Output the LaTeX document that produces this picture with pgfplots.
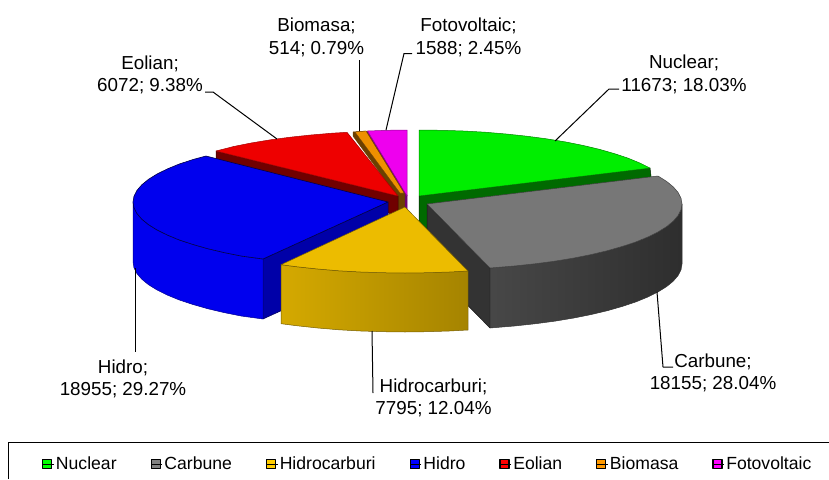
\documentclass[border=0pt]{standalone}
\usepackage{fontspec}
\setmainfont{Liberation Sans}
\usepackage{pgfplots}
\pgfplotsset{compat=1.18}
\definecolor{gT}{HTML}{00EE00}\definecolor{gS}{HTML}{006A00}
\definecolor{kT}{HTML}{777777}\definecolor{kS}{HTML}{333333}
\definecolor{yT}{HTML}{ECBC00}
\definecolor{bT}{HTML}{0000EE}\definecolor{bS}{HTML}{0000A8}
\definecolor{rT}{HTML}{EE0000}\definecolor{rS}{HTML}{700000}
\definecolor{oT}{HTML}{EE9000}\definecolor{oS}{HTML}{6B4000}
\definecolor{mT}{HTML}{EE00EE}\definecolor{mS}{HTML}{700070}
\definecolor{lgG}{HTML}{00FF00}\definecolor{lgK}{HTML}{808080}\definecolor{lgY}{HTML}{FFCC00}
\definecolor{lgB}{HTML}{0000FF}\definecolor{lgR}{HTML}{FF0000}\definecolor{lgO}{HTML}{FF9900}\definecolor{lgM}{HTML}{FF00FF}
\begin{document}
\begin{tikzpicture}
\useasboundingbox (0,0) rectangle (829pt,479pt);
\begin{axis}[
  scale only axis,width=829pt,height=479pt,
  xmin=0,xmax=829,ymin=0,ymax=479,y dir=reverse,
  hide axis,clip=false,
  every axis plot/.append style={line join=round},
  legend columns=-1,
  legend style={draw=none,fill=none,font=\fontsize{17.6}{20}\selectfont,
    at={(42/829,15/479)},anchor=west,inner sep=0pt,
    /tikz/every even column/.append style={column sep=32pt},
    /tikz/every odd column/.append style={column sep=0pt}},
  legend image code/.code={\draw[#1,line width=1.2pt] (0pt,-4.5pt) rectangle (9pt,4.5pt);\path (0pt,0pt) -- (11pt,0pt);},
]
% legend frame
\addplot[black,line width=.8pt,forget plot] coordinates {(8.5,479)(8.5,442)(829,442)};
% Nuclear
\addplot[fill=gS,draw=black!70!gS,line width=.5pt,forget plot] coordinates {(419,196)(650,168)(651,176)(651,200)(427,240)(419,240)(419,196)} --cycle;
\addplot[fill=gT,draw=black!45!gT,line width=.5pt,forget plot] coordinates {(419,196)(419,130)(441.2,130.3)(463.3,131)(485,132.2)(506.2,134)(526.8,136.2)(546.5,138.8)(565.3,141.9)(582.9,145.4)(599.3,149.3)(614.3,153.6)(627.9,158.1)(639.8,163)(650.1,168.1)} --cycle;
% Fotovoltaic
\addplot[fill=mS,draw=mS,line width=.5pt,forget plot] coordinates {(367,131)(407,195)(407,215)(400,215)(367,135)} --cycle;
\addplot[fill=mT,draw=black!40!mT,line width=.5pt,forget plot] coordinates {(407,196)(367.5,131)(387,130.3)(407,130)} --cycle;
% Biomasa
\addplot[fill=oS,draw=oS,line width=.5pt,forget plot] coordinates {(353,132)(366,131)(404.5,194)(404.5,215)(397,215)(397,196)(353,136)} --cycle;
\addplot[fill=oT,draw=oS,line width=.3pt,forget plot] coordinates {(355,132)(366,131)(404,193)(400,193)} --cycle;
% Eolian
\addplot[fill=rS,draw=black!50!rS,line width=.5pt,forget plot] coordinates {(216,151)(398,196)(398,216)(216,160)} --cycle;
\addplot[fill=rT,draw=black!30!rT,line width=.5pt,forget plot] coordinates {(398,196)(216,151)(234.1,146.4)(251.7,142.9)(270.5,139.8)(290.2,137.2)(310.8,135)(332,133.2)(347,132.3)} --cycle;
% Hidro
\addplot[fill=bS,draw=black!50!bS,line width=.5pt,forget plot] coordinates {(263,259)(388,202)(388,262)(263,319)} --cycle;
\addplot[fill=bT,draw=black!40!bT,line width=.5pt,forget plot] coordinates {(133,202)(134,207.8)(136.9,213.5)(141.7,219.1)(148.4,224.6)(156.9,229.9)(167.2,235)(179.1,239.9)(192.7,244.4)(207.7,248.7)(224.1,252.6)(241.7,256.1)(263,259)(263,319)(241.7,316.1)(224.1,312.6)(207.7,308.7)(192.7,304.4)(179.1,299.9)(167.2,295)(156.9,289.9)(148.4,284.6)(141.7,279.1)(136.9,273.5)(134,267.8)(133,262)} --cycle;
\addplot[fill=bT,draw=black!70!bT,line width=.6pt,forget plot] coordinates {(388,202)(206,156)(192.7,159.6)(179.1,164.1)(167.2,169)(156.9,174.1)(148.4,179.4)(141.7,184.9)(136.9,190.5)(134,196.2)(133,202)(134,207.8)(136.9,213.5)(141.7,219.1)(148.4,224.6)(156.9,229.9)(167.2,235)(179.1,239.9)(192.7,244.4)(207.7,248.7)(224.1,252.6)(241.7,256.1)(263,259)} --cycle;
% Carbune
\addplot[fill=kS,draw=black!60!kS,line width=.5pt,forget plot] coordinates {(427,204)(490,268)(490,328)(427,264)} --cycle;
\addplot[left color=black!72,middle color=black!82,right color=black!82,draw=black!80,line width=.5pt,forget plot] coordinates {(490,268)(514.2,266)(534.8,263.8)(554.5,261.2)(573.3,258.1)(590.9,254.6)(607.3,250.7)(622.3,246.4)(635.9,241.9)(647.8,237)(658.1,231.9)(666.6,226.6)(673.3,221.1)(678.1,215.5)(681,209.8)(682,204)(682,264)(681,269.8)(678.1,275.5)(673.3,281.1)(666.6,286.6)(658.1,291.9)(647.8,297)(635.9,301.9)(622.3,306.4)(607.3,310.7)(590.9,314.6)(573.3,318.1)(554.5,321.2)(534.8,323.8)(514.2,326)(490,328)} --cycle;
\addplot[fill=kT,draw=black!75,line width=.5pt,forget plot] coordinates {(427,204)(658,176)(666.6,181.4)(673.3,186.9)(678.1,192.5)(681,198.2)(682,204)(681,209.8)(678.1,215.5)(673.3,221.1)(666.6,226.6)(658.1,231.9)(647.8,237)(635.9,241.9)(622.3,246.4)(607.3,250.7)(590.9,254.6)(573.3,258.1)(554.5,261.2)(534.8,263.8)(514.2,266)(490,268)} --cycle;
% Hidrocarburi
\addplot[left color=yT!90!black,right color=yT!70!black,draw=yT!50!black,line width=.5pt,forget plot] coordinates {(281,264.7)(297.2,266.8)(317.8,269)(339,270.8)(360.7,272)(382.8,272.7)(405,273)(427.2,272.7)(449.3,272)(468,271)(468,330)(449.3,331)(427.2,331.7)(405,332)(382.8,331.7)(360.7,331)(339,329.8)(317.8,328)(297.2,325.8)(281,323.7)} --cycle;
\addplot[fill=yT,draw=yT!50!black,line width=.5pt,forget plot] coordinates {(405,207)(281,264.7)(297.2,266.8)(317.8,269)(339,270.8)(360.7,272)(382.8,272.7)(405,273)(427.2,272.7)(449.3,272)(468,271)} --cycle;
% leader lines
\addplot[black,line width=1pt,forget plot] coordinates {(555,141)(609,89)(619,89)};
\addplot[black,line width=1pt,forget plot] coordinates {(657,292)(663,367)(673,367)};
\addplot[black,line width=1pt,forget plot] coordinates {(372,331)(373,393)};
\addplot[black,line width=1pt,forget plot] coordinates {(135,268)(135,352)};
\addplot[black,line width=1pt,forget plot] coordinates {(277,139)(213,92)(205,92)};
\addplot[black,line width=1pt,forget plot] coordinates {(359,131)(359,60)};
\addplot[black,line width=1pt,forget plot] coordinates {(386,130)(404,53.5)(412,53.5)};
% labels
\tikzset{lab/.style={align=center,inner sep=0pt,font=\fontsize{18.8}{22.5}\selectfont}}
\node[lab] at (axis cs:684,74.5) {Nuclear;\\11673; 18.03\%};
\node[lab] at (axis cs:713,373) {Carbune;\\18155; 28.04\%};
\node[lab] at (axis cs:433.5,398) {Hidrocarburi;\\7795; 12.04\%};
\node[lab] at (axis cs:123,379) {Hidro;\\18955; 29.27\%};
\node[lab] at (axis cs:150,75) {Eolian;\\6072; 9.38\%};
\node[lab] at (axis cs:316.5,37.5) {Biomasa;\\514; 0.79\%};
\node[lab] at (axis cs:468.5,37.5) {Fotovoltaic;\\1588; 2.45\%};
% legend
\addlegendimage{fill=lgG,draw=black}\addlegendentry{Nuclear}
\addlegendimage{fill=lgK,draw=black}\addlegendentry{Carbune}
\addlegendimage{fill=lgY,draw=black}\addlegendentry{Hidrocarburi}
\addlegendimage{fill=lgB,draw=black}\addlegendentry{Hidro}
\addlegendimage{fill=lgR,draw=black}\addlegendentry{Eolian}
\addlegendimage{fill=lgO,draw=black}\addlegendentry{Biomasa}
\addlegendimage{fill=lgM,draw=black}\addlegendentry{Fotovoltaic}
\end{axis}
\end{tikzpicture}
\end{document}
